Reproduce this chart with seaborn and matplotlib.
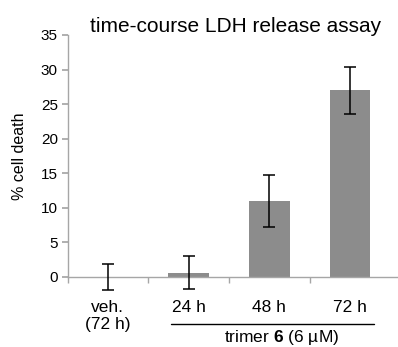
import matplotlib
matplotlib.use("Agg")
import matplotlib.pyplot as plt
import seaborn as sns
import pandas as pd

categories = ["veh.\n(72 h)", "24 h", "48 h", "72 h"]
values = [0.0, 0.6, 11.0, 27.0]
errors = [1.9, 2.4, 3.8, 3.4]
yticks = [0, 5, 10, 15, 20, 25, 30, 35]

sns.set_theme(style="white")
plt.rcParams['font.family'] = ['Liberation Sans', 'DejaVu Sans']
plt.rcParams['mathtext.fontset'] = 'custom'
plt.rcParams['mathtext.rm'] = 'Liberation Sans'
plt.rcParams['mathtext.bf'] = 'Liberation Sans:bold'
plt.rcParams['text.color'] = 'black'
plt.rcParams['axes.labelcolor'] = 'black'
plt.rcParams['xtick.labelcolor'] = 'black'
plt.rcParams['ytick.labelcolor'] = 'black'

df = pd.DataFrame({"cat": categories, "val": values, "err": errors})

fig = plt.figure(figsize=(3.98, 3.47), dpi=100)
ax = fig.add_axes([67.5/398, 70/347, 329.5/398, 242/347])

sns.barplot(data=df, x="cat", y="val", color="#8c8c8c", saturation=1,
            width=0.5, errorbar=None, ax=ax, edgecolor="none")
eb = ax.errorbar(range(len(values)), values, yerr=errors, fmt="none",
                 ecolor="black", elinewidth=1.1, capsize=4, capthick=1.1, zorder=5)
for art in list(eb.lines[1]) + list(eb.lines[2]):
    art.set_clip_on(False)

ax.set_xlim(-0.5, len(categories) - 0.42)
ax.set_ylim(0, 35)
ax.set_yticks(yticks)
ax.set_xlabel("")
ax.set_ylabel("% cell death", fontsize=11.5, labelpad=10, color="black")
ax.set_title("time-course LDH release assay", fontsize=15, x=0.51, pad=2, color="black")

for s in ["top", "right"]:
    ax.spines[s].set_visible(False)
for s in ["left", "bottom"]:
    ax.spines[s].set_color("#a6a6a6")
    ax.spines[s].set_linewidth(1.0)

ax.set_xticks([i + 0.5 for i in range(-1, len(categories) - 1)], minor=True)
ax.tick_params(axis="x", which="major", length=0, labelsize=12.5, pad=16.5, labelcolor="black")
ax.tick_params(axis="x", which="minor", length=4, color="#a6a6a6", direction="out", bottom=True)
ax.tick_params(axis="y", length=4, color="#a6a6a6", direction="out", left=True, labelsize=11, pad=3,
               labelcolor="black")
for lbl in ax.get_xticklabels():
    lbl.set_verticalalignment("top")
    lbl.set_linespacing(1.15)

ax.plot([0.78, 3.29], [-6.8, -6.8], color="black", lw=1.0, clip_on=False)
ax.text(2.15, -8.8, r"trimer $\mathbf{6}$ (6 µM)", ha="center", va="center",
        fontsize=12.5, clip_on=False, color="black")

fig.savefig("out.png", dpi=100)
